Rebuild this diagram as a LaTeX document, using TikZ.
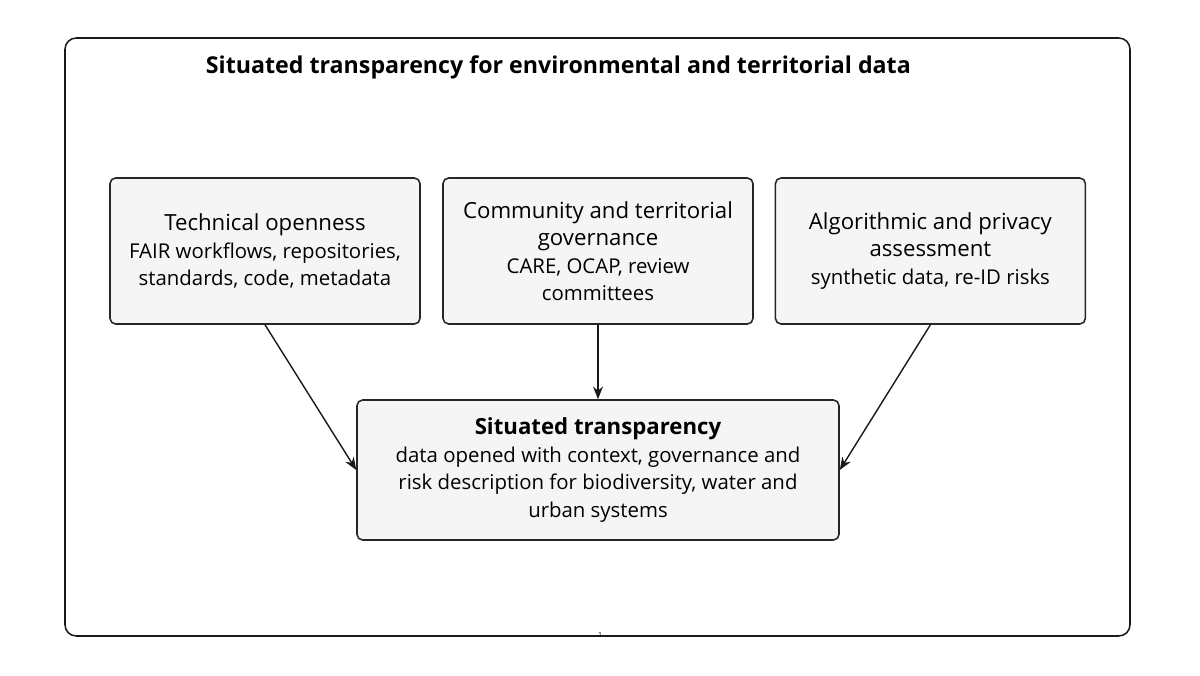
\documentclass[tikz,border=0pt]{standalone}
\usepackage{fontspec}
\setmainfont{Open Sans}
\usetikzlibrary{arrows.meta,positioning}

\newcommand{\headsize}{\fontsize{15.8}{19.5}\selectfont}

\begin{document}
\begin{tikzpicture}[
      box/.style={draw=black!85, fill=black!4, rounded corners=4pt, line width=1.1pt,
                  minimum width=7.75cm, minimum height=3.65cm, align=center, inner sep=4pt},
      flow/.style={-{Stealth[length=9pt,width=7pt]}, line width=1pt, black!90},
      every node/.style={font=\fontsize{14.5}{19.5}\selectfont}
    ]
    \useasboundingbox (0,0) rectangle (30,16.875);
    % outer frame and title
    \draw[rounded corners=8pt, line width=1.1pt, black!90] (1.625,0.975) rectangle (28.25,15.925);
    \node[font=\fontsize{16.5}{19}\selectfont\bfseries] (title) at (13.96,15.2)
      {Situated transparency for environmental and territorial data};
    % three inputs
    \node[box] (tech) at (6.625,10.6)
      {{\headsize Technical openness}\\FAIR workflows, repositories,\\standards, code, metadata};
    \node[box] (comm) at (14.95,10.6)
      {{\headsize Community and territorial}\\{\headsize governance}\\CARE, OCAP, review\\committees};
    \node[box] (algo) at (23.26,10.6)
      {{\headsize Algorithmic and privacy}\\{\headsize assessment}\\synthetic data, re-ID risks};
    % result
    \node[box, minimum width=12.05cm, minimum height=3.5cm] (situ) at (14.95,5.125)
      {{\headsize\bfseries Situated transparency}\\data opened with context, governance and\\risk description for biodiversity, water and\\urban systems};
    \draw[flow] (tech.south) -- (situ.west);
    \draw[flow] (comm.south) -- (situ.north);
    \draw[flow] (algo.south) -- (situ.east);
    \node[font=\fontsize{5}{6}\selectfont] (pagenum) at (15,1.0) {1};
  \end{tikzpicture}
\end{document}
